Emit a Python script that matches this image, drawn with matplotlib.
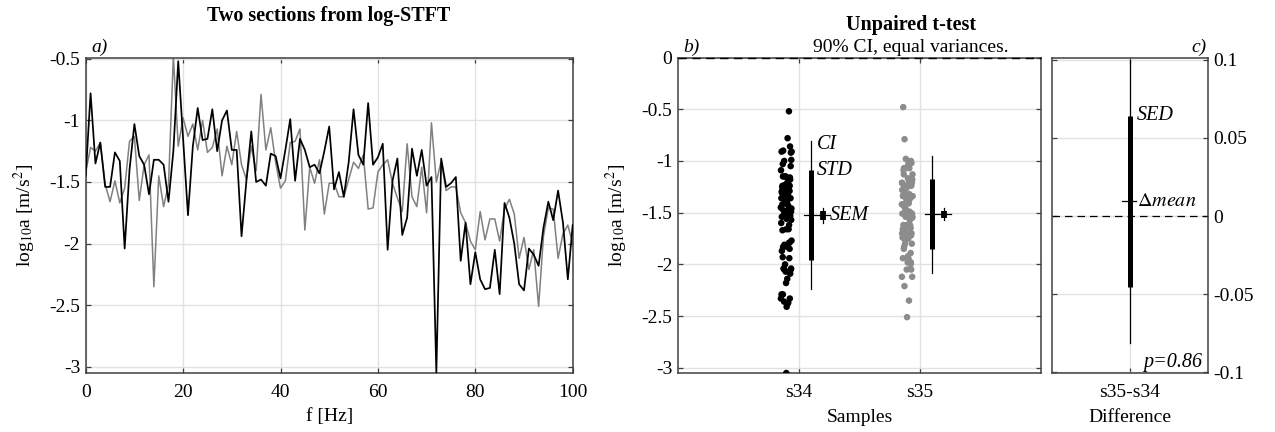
import numpy as np
import matplotlib
matplotlib.use('Agg')
import matplotlib.pyplot as plt
from matplotlib.ticker import FuncFormatter

# ---------------- data ----------------
freq = np.arange(0, 101)  # Hz

s34 = [-1.45, -0.78, -1.35, -1.18, -1.54, -1.54, -1.26, -1.33, -2.04, -1.40,
       -1.03, -1.29, -1.36, -1.60, -1.32, -1.32, -1.36, -1.66, -1.25, -0.52,
       -1.15, -1.77, -1.21, -0.90, -1.16, -1.15, -0.91, -1.25, -1.00, -0.92,
       -1.24, -1.24, -1.94, -1.49, -1.09, -1.50, -1.48, -1.53, -1.27, -1.29,
       -1.47, -1.24, -0.99, -1.49, -1.15, -1.24, -1.38, -1.36, -1.43, -1.25,
       -1.05, -1.56, -1.42, -1.62, -1.34, -0.91, -1.28, -1.36, -0.86, -1.36,
       -1.30, -1.19, -2.05, -1.49, -1.31, -1.93, -1.79, -1.23, -1.45, -1.24,
       -1.53, -1.46, -3.05, -1.31, -1.54, -1.51, -1.46, -2.14, -1.83, -2.33,
       -2.07, -2.29, -2.37, -2.36, -2.05, -2.41, -1.67, -1.79, -2.00, -2.33,
       -2.38, -2.04, -2.09, -2.18, -1.87, -1.66, -1.81, -1.57, -1.83, -2.29,
       -1.85]

s35 = [-1.42, -1.22, -1.25, -1.18, -1.52, -1.66, -1.49, -1.67, -1.55, -1.17,
       -1.13, -1.65, -1.36, -1.28, -2.35, -1.45, -1.70, -1.52, -0.48, -1.21,
       -0.98, -1.13, -1.03, -1.24, -1.00, -1.26, -1.22, -1.07, -1.45, -1.21,
       -1.36, -1.09, -1.36, -1.48, -1.21, -1.41, -0.79, -1.24, -1.06, -1.34,
       -1.55, -1.49, -1.18, -1.17, -1.07, -1.89, -1.38, -1.51, -1.32, -1.76,
       -1.51, -1.51, -1.62, -1.62, -1.48, -1.34, -1.39, -1.28, -1.72, -1.71,
       -1.42, -1.36, -1.32, -1.51, -1.63, -1.74, -1.19, -1.62, -1.70, -1.38,
       -1.75, -1.02, -1.50, -1.33, -1.57, -1.54, -1.54, -1.75, -1.83, -1.98,
       -2.05, -1.74, -1.97, -1.80, -1.80, -1.98, -1.72, -1.64, -1.76, -2.12,
       -1.95, -2.21, -2.05, -2.51, -1.94, -1.71, -1.72, -2.12, -1.92, -1.85,
       -2.00]

sample_labels = ['s34', 's35']
diff_label = 's35-s34'
p_text = 'p=0.86'
t_crit_sample = 1.660   # 90 % two-sided, df = 100
t_crit_diff = 1.653     # 90 % two-sided, df = 200

xticks_a = [0, 20, 40, 60, 80, 100]
yticks_a = [-3, -2.5, -2, -1.5, -1, -0.5]
yticks_b = [-3, -2.5, -2, -1.5, -1, -0.5, 0]
yticks_c = [-0.1, -0.05, 0, 0.05, 0.1]

# ---------------- style ----------------
FS = 14
plt.rcParams.update({
    'font.family': ['Liberation Serif', 'DejaVu Serif'],
    'mathtext.fontset': 'stix',
    'axes.unicode_minus': False,
    'font.size': FS,
})

W, H = 1275, 432
fig = plt.figure(figsize=(W / 100, H / 100), dpi=100)


def rect(l, t, r, b):
    return [l / W, 1 - b / H, (r - l) / W, (b - t) / H]


axa = fig.add_axes(rect(85.7, 57.5, 572.7, 373))
axb = fig.add_axes(rect(678, 57.5, 1041, 373))
axc = fig.add_axes(rect(1052, 57.5, 1208, 373))

fmt = FuncFormatter(lambda v, p: f"{v:g}")
ylab = r"log$_{10}$a [m/s$^{2}$]"
SPINE = '#404040'


def style(ax, ax_h_px):
    ax.grid(True, color='#e2e2e2', lw=1.0)
    ax.set_axisbelow(True)
    for s in ax.spines.values():
        s.set_color(SPINE)
        s.set_linewidth(1.1)
    ax.tick_params(direction='in', length=3.5, width=0.9, color=SPINE,
                   top=True, right=True, labelsize=FS)
    ax.tick_params(axis='x', pad=8)
    ax.tick_params(axis='y', pad=4)
    ax.yaxis.set_major_formatter(fmt)


def place_xlabel(ax, text):
    ax.set_xlabel(text)
    ax.xaxis.label.set_va('center')
    ax.xaxis.set_label_coords(0.5, (373 - 417) / 315.5)


# ---------------- panel a ----------------
style(axa, 315.5)
axa.plot(freq, s35, color='#808080', lw=1.1, zorder=2)
axa.plot(freq, s34, color='k', lw=1.25, zorder=3)
axa.set_xlim(0, 100)
axa.set_ylim(-3.05, -0.49)
axa.set_xticks(xticks_a)
axa.set_yticks(yticks_a)
place_xlabel(axa, 'f [Hz]')
axa.set_ylabel(ylab)
axa.yaxis.label.set_va('center')
axa.yaxis.set_label_coords((25 - 85.7) / 487, 0.5)

# ---------------- panel b ----------------
style(axb, 315.5)
n = len(s34)
jit = -0.15 + 0.09 * ((np.arange(n) * 0.6180339887) % 1.0)
stats = []
for i, (vals, col) in enumerate([(s34, 'k'), (s35, '#8c8c8c')]):
    vals = np.asarray(vals)
    x0 = i + 1
    axb.scatter(x0 + jit, vals, s=22, color=col, edgecolors='none', zorder=3)
    m = vals.mean()
    sd = vals.std(ddof=1)
    sem = sd / np.sqrt(len(vals))
    stats.append((m, sd, len(vals)))
    axb.plot([x0 + 0.1] * 2, [m - t_crit_sample * sd, m + t_crit_sample * sd],
             color='k', lw=0.9, zorder=4)
    axb.plot([x0 + 0.1] * 2, [m - sd, m + sd], color='k', lw=3.6,
             solid_capstyle='butt', zorder=4)
    axb.plot([x0 + 0.04, x0 + 0.26], [m, m], color='k', lw=0.9, zorder=4)
    axb.plot([x0 + 0.2] * 2, [m - t_crit_sample * sem, m + t_crit_sample * sem],
             color='k', lw=0.9, zorder=5)
    axb.plot([x0 + 0.2] * 2, [m - sem, m + sem], color='k', lw=4.2,
             solid_capstyle='butt', zorder=5)
    if i == 0:
        axb.text(x0 + 0.148, m + t_crit_sample * sd - 0.04, 'CI',
                 style='italic', va='center', ha='left', fontsize=FS + 0.5)
        axb.text(x0 + 0.148, m + sd, 'STD', style='italic', va='center',
                 ha='left', fontsize=FS + 0.5)
        axb.text(x0 + 0.255, m, 'SEM', style='italic', va='center',
                 ha='left', fontsize=FS + 0.5)

axb.axhline(0, color='k', ls='--', lw=1.0, dashes=(6, 4), clip_on=False, zorder=6)
axb.set_xlim(0, 3)
axb.set_ylim(-3.05, 0)
axb.set_xticks([1, 2])
axb.set_xticklabels(sample_labels)
axb.set_yticks(yticks_b)
place_xlabel(axb, 'Samples')
axb.set_ylabel(ylab)
axb.yaxis.label.set_va('center')
axb.yaxis.set_label_coords((617 - 678) / 363, 0.5)

# ---------------- panel c ----------------
style(axc, 315.5)
(m1, s1, n1), (m2, s2, n2) = stats
d = m2 - m1
sp = np.sqrt(((n1 - 1) * s1 ** 2 + (n2 - 1) * s2 ** 2) / (n1 + n2 - 2))
sed = sp * np.sqrt(1 / n1 + 1 / n2)
axc.axhline(0, color='k', ls='--', lw=0.9, dashes=(6, 4), zorder=2)
axc.plot([1, 1], [d - t_crit_diff * sed, d + t_crit_diff * sed], color='k', lw=0.9, zorder=3)
axc.plot([1, 1], [d - sed, d + sed], color='k', lw=3.6, solid_capstyle='butt', zorder=3)
axc.plot([0.9, 1.08], [d, d], color='k', lw=0.9, zorder=3)
axc.text(1.09, d + sed, 'SED', style='italic', va='center', ha='left', fontsize=FS + 0.5)
axc.text(1.09, d, r'$\Delta mean$', va='center', ha='left', fontsize=FS + 0.5)
axc.text(0.965, 0.018, p_text, style='italic', ha='right', va='baseline',
         transform=axc.transAxes, fontsize=FS + 0.5)
axc.set_xlim(0, 2)
axc.set_ylim(-0.1005, 0.1015)
axc.set_xticks([1])
axc.set_xticklabels([diff_label])
axc.set_yticks(yticks_c)
axc.tick_params(labelleft=False, labelright=True)
place_xlabel(axc, 'Difference')

# ---------------- titles / panel tags ----------------
fig.text(329 / W, 1 - 21 / H, 'Two sections from log-STFT', ha='center',
         va='baseline', fontweight='bold', fontsize=FS + 0.5)
fig.text(911 / W, 1 - 30 / H, 'Unpaired t-test', ha='center',
         va='baseline', fontweight='bold', fontsize=FS + 0.5)
fig.text(911 / W, 1 - 52 / H, '90% CI, equal variances.', ha='center',
         va='baseline', fontsize=FS)
fig.text(91 / W, 1 - 52 / H, 'a)', style='italic', ha='left', va='baseline', fontsize=FS)
fig.text(683 / W, 1 - 52 / H, 'b)', style='italic', ha='left', va='baseline', fontsize=FS)
fig.text(1207 / W, 1 - 52 / H, 'c)', style='italic', ha='right', va='baseline', fontsize=FS)

fig.savefig('out.png', dpi=100)
